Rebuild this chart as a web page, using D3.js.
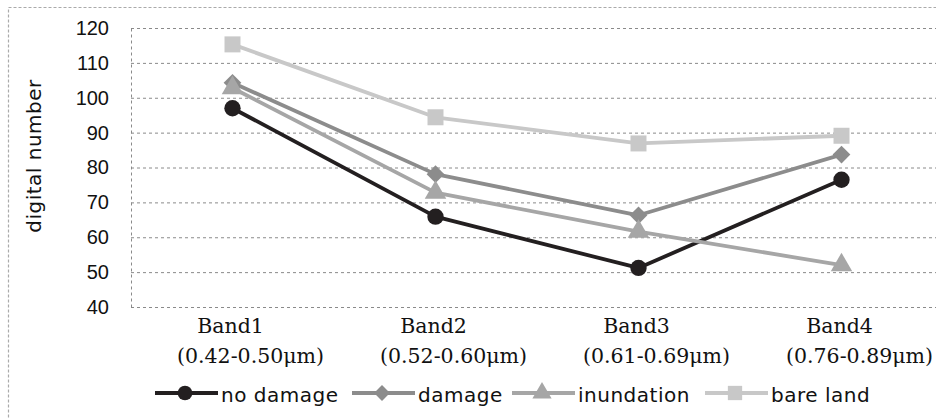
<!DOCTYPE html>
<html>
<head>
<meta charset="utf-8">
<title>digital number by band</title>
<script src="https://d3js.org/d3.v7.min.js"></script>
<style>
  body { margin: 0; background: #fff; }
  svg { display: block; }
</style>
</head>
<body>
<div id="chart"></div>
<script>
// ----- data -----
const categories = ["Band1", "Band2", "Band3", "Band4"];
const wavelengths = ["(0.42-0.50\u03bcm)", "(0.52-0.60\u03bcm)", "(0.61-0.69\u03bcm)", "(0.76-0.89\u03bcm)"];
const yTicks = [40, 50, 60, 70, 80, 90, 100, 110, 120];

const seriesNames = ["no damage", "damage", "inundation", "bare land"];
const noDamage   = [97.0, 65.9, 51.2, 76.5];
const damage     = [104.3, 78.1, 66.3, 83.7];
const inundation = [102.8, 72.8, 61.6, 52.0];
const bareLand   = [115.3, 94.4, 86.9, 89.1];

const W = 936, H = 418;
const plotLeft = 131, plotRight = 943, plotTop = 28, plotBottom = 307;

const styles = [
  { color: "#231f20", symbol: d3.symbolCircle,   size: 210 },
  { color: "#8c8c8c", symbol: d3.symbolDiamond2, size: 200 },
  { color: "#a6a6a6", symbol: d3.symbolTriangle, size: 200 },
  { color: "#c8c8c8", symbol: d3.symbolSquare,   size: 256 }
];
const values = [noDamage, damage, inundation, bareLand];

// ----- svg -----
const svg = d3.select("#chart").append("svg")
  .attr("width", W)
  .attr("height", H);

// outer chart border
svg.append("rect")
  .attr("x", 8.5).attr("y", 7.5)
  .attr("width", 940).attr("height", 430)
  .attr("fill", "none")
  .attr("stroke", "#aaa")
  .attr("stroke-width", 1.2)
  .attr("stroke-dasharray", "3,2");

const x = d3.scalePoint().domain(categories).range([plotLeft, plotRight]).padding(0.5);
const y = d3.scaleLinear().domain([40, 120]).range([plotBottom, plotTop]);

// gridlines + y labels
const yAxis = svg.append("g")
  .attr("transform", `translate(${plotLeft},0)`)
  .call(d3.axisLeft(y).tickValues(yTicks)
    .tickSizeInner(-(plotRight - plotLeft)).tickSizeOuter(0).tickPadding(22));

yAxis.select(".domain")
  .attr("stroke", "#8a8a8a")
  .attr("stroke-dasharray", "3,3");
yAxis.selectAll(".tick line")
  .attr("stroke", "#8a8a8a")
  .attr("stroke-dasharray", "3,3");
yAxis.selectAll(".tick text")
  .attr("fill", "#111")
  .style("font-family", "'Liberation Sans', Arial, sans-serif")
  .style("font-size", "20px");

// y title
svg.append("text")
  .attr("transform", "translate(41,156) rotate(-90)")
  .attr("text-anchor", "middle")
  .style("font-family", "'DejaVu Sans', sans-serif")
  .style("font-size", "20px")
  .style("letter-spacing", "0.5px")
  .attr("fill", "#111")
  .text("digital number");

// x labels (two lines)
const xl = svg.append("g").selectAll("g")
  .data(categories)
  .join("g")
  .attr("transform", d => `translate(${x(d)},0)`)
  .style("font-family", "'DejaVu Serif', serif")
  .style("font-size", "20.5px")
  .attr("fill", "#111");

xl.append("text")
  .attr("y", 333)
  .attr("x", -2)
  .attr("text-anchor", "middle")
  .text(d => d);

xl.append("text")
  .attr("y", 363)
  .attr("x", 18)
  .attr("text-anchor", "middle")
  .text((d, i) => wavelengths[i]);

// series
const line = d3.line()
  .x((d, i) => x(categories[i]))
  .y(d => y(d));

values.forEach((vals, s) => {
  const st = styles[s];
  const g = svg.append("g");
  g.append("path")
    .datum(vals)
    .attr("d", line)
    .attr("fill", "none")
    .attr("stroke", st.color)
    .attr("stroke-width", 3.8)
    .attr("stroke-linejoin", "round");
  g.selectAll("path.mark")
    .data(vals)
    .join("path")
    .attr("class", "mark")
    .attr("transform", (d, i) => `translate(${x(categories[i])},${y(d)})`)
    .attr("d", d3.symbol().type(st.symbol).size(st.size))
    .attr("fill", st.color);
});

// legend
const legendX = [155, 352, 512, 705];
const legend = svg.append("g").selectAll("g")
  .data(seriesNames)
  .join("g")
  .attr("transform", (d, i) => `translate(${legendX[i]},393)`);

legend.append("line")
  .attr("x1", 0).attr("x2", 63)
  .attr("stroke", (d, i) => styles[i].color)
  .attr("stroke-width", 4);

legend.append("path")
  .attr("transform", "translate(30,0)")
  .attr("d", (d, i) => d3.symbol().type(styles[i].symbol).size(styles[i].size * 0.8)())
  .attr("fill", (d, i) => styles[i].color);

legend.append("text")
  .attr("x", 66)
  .attr("y", 8.5)
  .style("font-family", "'DejaVu Sans', sans-serif")
  .style("font-size", "20px")
  .style("letter-spacing", "0.5px")
  .attr("fill", "#111")
  .text(d => d);
</script>
</body>
</html>
